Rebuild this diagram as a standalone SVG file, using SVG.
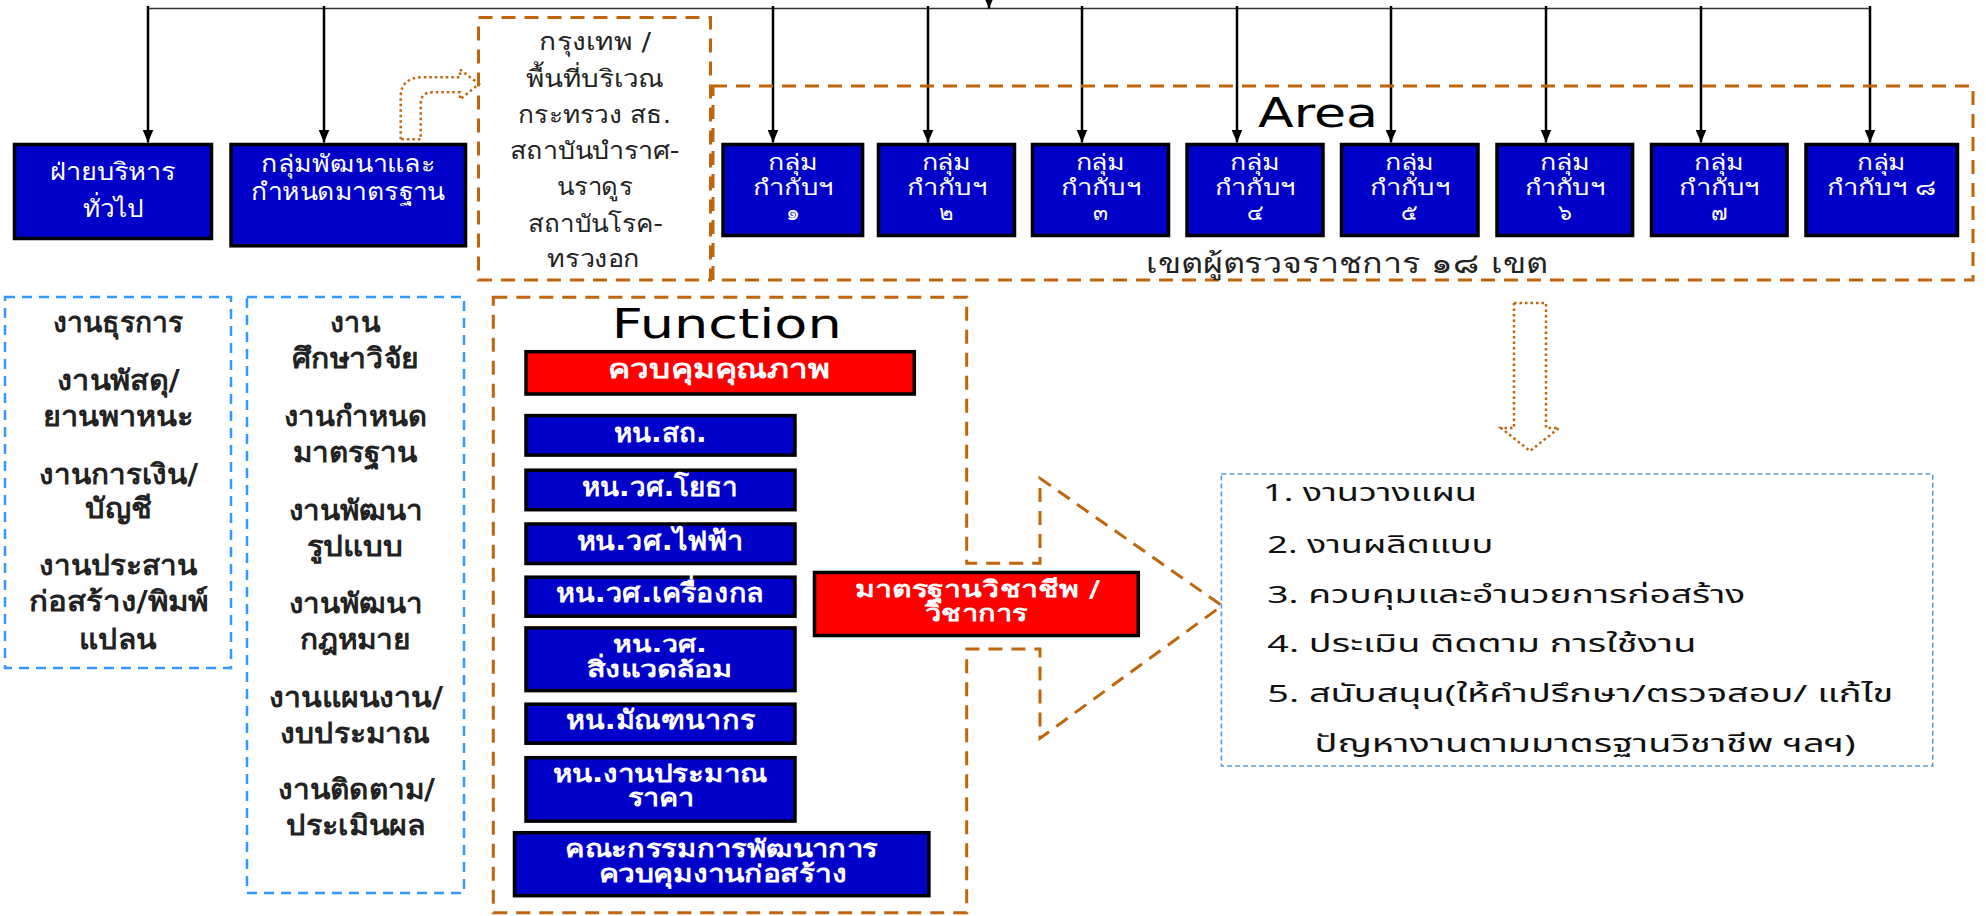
<svg xmlns="http://www.w3.org/2000/svg" width="1986" height="916" viewBox="0 0 1986 916">
<style>
.bx{fill:#0000C8;stroke:#000;stroke-width:3.5}
.rd{fill:#FF0000;stroke:#000;stroke-width:3.5}
.wt{fill:#fff;font-family:Tahoma,'DejaVu Sans',sans-serif;text-anchor:middle}
.wb{fill:#fff;font-family:Tahoma,'DejaVu Sans',sans-serif;text-anchor:middle;font-weight:bold}
.dk{fill:#222;font-family:Tahoma,'DejaVu Sans',sans-serif;text-anchor:middle}
.ls{fill:#222;font-family:Tahoma,'DejaVu Sans',sans-serif;text-anchor:middle;font-size:28px;font-weight:bold}
.rl{fill:#111;font-family:'Noto Sans Thai','Noto Sans Thai UI','Noto Sans',sans-serif;font-size:24px}
.od{fill:none;stroke:#C0650C;stroke-width:3;stroke-dasharray:14 9}
.bd{fill:none;stroke:#3399FF;stroke-width:2.5;stroke-dasharray:10 7}
.dot{fill:none;stroke:#C0650C;stroke-width:2.5;stroke-dasharray:2.5 3}
.ln{stroke:#000;stroke-width:2.5;marker-end:url(#ah)}
</style>
<defs>
<marker id="ah" markerUnits="userSpaceOnUse" markerWidth="13" markerHeight="11" viewBox="0 0 13 11" refX="13" refY="5.5" orient="auto"><path d="M0,0 L13,5.5 L0,11 z" fill="#000"/></marker>
</defs>

<g id="connectors">
<line x1="148" y1="8.5" x2="1870" y2="8.5" stroke="#333" stroke-width="1.6"/>
<line class="ln" x1="989" y1="-20" x2="989" y2="8.5"/>
<line class="ln" x1="148" y1="6" x2="148" y2="142.5"/>
<line class="ln" x1="324" y1="6" x2="324" y2="142.5"/>
<line class="ln" x1="773" y1="6" x2="773" y2="142.5"/>
<line class="ln" x1="928" y1="6" x2="928" y2="142.5"/>
<line class="ln" x1="1082" y1="6" x2="1082" y2="142.5"/>
<line class="ln" x1="1237" y1="6" x2="1237" y2="142.5"/>
<line class="ln" x1="1391" y1="6" x2="1391" y2="142.5"/>
<line class="ln" x1="1546" y1="6" x2="1546" y2="142.5"/>
<line class="ln" x1="1701" y1="6" x2="1701" y2="142.5"/>
<line class="ln" x1="1870" y1="6" x2="1870" y2="142.5"/>
<path class="dot" d="M400.7,139.3 L400.7,97 Q400.7,77.3 423,77.3 L460,77.3 L460,69.5 L479,84 L460,99.3 L460,92.3 L432,92.3 Q420.7,92.3 420.7,104 L420.7,139.3 Z"/>
<path class="dot" d="M1514,303 H1546 V428 H1559 L1530,451 L1501,428 H1514 Z"/>
</g>

<g id="admin">
<rect class="bx" x="14.5" y="144.5" width="197" height="94"/>
<text class="wt" font-size="24" x="113" y="180" textLength="126" lengthAdjust="spacingAndGlyphs">ฝ่ายบริหาร</text>
<text class="wt" font-size="24" x="113" y="217" textLength="61" lengthAdjust="spacingAndGlyphs">ทั่วไป</text>
</g>

<g id="standards">
<rect class="bx" x="231" y="144.5" width="234.5" height="101.3"/>
<text class="wt" font-size="24" x="348" y="171.5" textLength="174" lengthAdjust="spacingAndGlyphs">กลุ่มพัฒนาและ</text>
<text class="wt" font-size="24" x="348" y="200" textLength="194" lengthAdjust="spacingAndGlyphs">กำหนดมาตรฐาน</text>
</g>

<g id="bangkok">
<rect class="od" x="478.5" y="17.5" width="232" height="262.5"/>
<text class="dk" font-size="24" x="595" y="50" textLength="112" lengthAdjust="spacingAndGlyphs">กรุงเทพ /</text>
<text class="dk" font-size="24" x="594.5" y="86.5" textLength="138" lengthAdjust="spacingAndGlyphs">พื้นที่บริเวณ</text>
<text class="dk" font-size="24" x="594.5" y="123" textLength="153" lengthAdjust="spacingAndGlyphs">กระทรวง สธ.</text>
<text class="dk" font-size="24" x="594.5" y="159" textLength="170" lengthAdjust="spacingAndGlyphs">สถาบันบำราศ-</text>
<text class="dk" font-size="24" x="594.5" y="195" textLength="76" lengthAdjust="spacingAndGlyphs">นราดูร</text>
<text class="dk" font-size="24" x="595.5" y="231.5" textLength="135" lengthAdjust="spacingAndGlyphs">สถาบันโรค-</text>
<text class="dk" font-size="24" x="593.7" y="267" textLength="93" lengthAdjust="spacingAndGlyphs">ทรวงอก</text>
</g>

<g id="area">
<rect class="od" x="713" y="86" width="1260" height="194"/>
<text x="1318" y="126.7" font-family="'DejaVu Sans',sans-serif" font-size="41" text-anchor="middle" fill="#000" textLength="120" lengthAdjust="spacingAndGlyphs">Area</text>
<text class="dk" font-size="28" x="1347" y="273" fill="#000" textLength="402" lengthAdjust="spacingAndGlyphs">เขตผู้ตรวจราชการ  ๑๘ เขต</text>
</g>

<g id="reg1"><rect class="bx" x="723" y="144.5" width="139.6" height="91"/>
<text class="wt" font-size="22" x="793" y="170" textLength="50" lengthAdjust="spacingAndGlyphs">กลุ่ม</text>
<text class="wt" font-size="22" x="793" y="195" textLength="80" lengthAdjust="spacingAndGlyphs">กำกับฯ</text>
<text class="wt" font-size="22" x="793" y="220">๑</text></g>
<g id="reg2"><rect class="bx" x="878.5" y="144.5" width="136" height="91"/>
<text class="wt" font-size="22" x="946.5" y="170" textLength="50" lengthAdjust="spacingAndGlyphs">กลุ่ม</text>
<text class="wt" font-size="22" x="946.5" y="195" textLength="80" lengthAdjust="spacingAndGlyphs">กำกับฯ</text>
<text class="wt" font-size="22" x="946.5" y="220">๒</text></g>
<g id="reg3"><rect class="bx" x="1032.5" y="144.5" width="136" height="91"/>
<text class="wt" font-size="22" x="1100.5" y="170" textLength="50" lengthAdjust="spacingAndGlyphs">กลุ่ม</text>
<text class="wt" font-size="22" x="1100.5" y="195" textLength="80" lengthAdjust="spacingAndGlyphs">กำกับฯ</text>
<text class="wt" font-size="22" x="1100.5" y="220">๓</text></g>
<g id="reg4"><rect class="bx" x="1187" y="144.5" width="136" height="91"/>
<text class="wt" font-size="22" x="1255" y="170" textLength="50" lengthAdjust="spacingAndGlyphs">กลุ่ม</text>
<text class="wt" font-size="22" x="1255" y="195" textLength="80" lengthAdjust="spacingAndGlyphs">กำกับฯ</text>
<text class="wt" font-size="22" x="1255" y="220">๔</text></g>
<g id="reg5"><rect class="bx" x="1341.5" y="144.5" width="136.5" height="91"/>
<text class="wt" font-size="22" x="1409.7" y="170" textLength="50" lengthAdjust="spacingAndGlyphs">กลุ่ม</text>
<text class="wt" font-size="22" x="1409.7" y="195" textLength="80" lengthAdjust="spacingAndGlyphs">กำกับฯ</text>
<text class="wt" font-size="22" x="1409.7" y="220">๕</text></g>
<g id="reg6"><rect class="bx" x="1497" y="144.5" width="135.6" height="91"/>
<text class="wt" font-size="22" x="1564.8" y="170" textLength="50" lengthAdjust="spacingAndGlyphs">กลุ่ม</text>
<text class="wt" font-size="22" x="1564.8" y="195" textLength="80" lengthAdjust="spacingAndGlyphs">กำกับฯ</text>
<text class="wt" font-size="22" x="1564.8" y="220">๖</text></g>
<g id="reg7"><rect class="bx" x="1651.5" y="144.5" width="135.6" height="91"/>
<text class="wt" font-size="22" x="1719.3" y="170" textLength="50" lengthAdjust="spacingAndGlyphs">กลุ่ม</text>
<text class="wt" font-size="22" x="1719.3" y="195" textLength="80" lengthAdjust="spacingAndGlyphs">กำกับฯ</text>
<text class="wt" font-size="22" x="1719.3" y="220">๗</text></g>
<g id="reg8"><rect class="bx" x="1806" y="144.5" width="151.5" height="91"/>
<text class="wt" font-size="22" x="1881.8" y="170" textLength="49" lengthAdjust="spacingAndGlyphs">กลุ่ม</text>
<text class="wt" font-size="22" x="1881.5" y="195" textLength="110" lengthAdjust="spacingAndGlyphs">กำกับฯ ๘</text></g>

<g id="admin-tasks">
<rect class="bd" x="5" y="297" width="226" height="371"/>
<text class="ls" x="118" y="331.9" textLength="130" lengthAdjust="spacingAndGlyphs">งานธุรการ</text>
<text class="ls" x="118.3" y="389.8" textLength="123" lengthAdjust="spacingAndGlyphs">งานพัสดุ/</text>
<text class="ls" x="118" y="425.7" textLength="150" lengthAdjust="spacingAndGlyphs">ยานพาหนะ</text>
<text class="ls" x="118.5" y="483.6" textLength="159" lengthAdjust="spacingAndGlyphs">งานการเงิน/</text>
<text class="ls" x="118.5" y="517.6" textLength="67" lengthAdjust="spacingAndGlyphs">บัญชี</text>
<text class="ls" x="118" y="575.4" textLength="158" lengthAdjust="spacingAndGlyphs">งานประสาน</text>
<text class="ls" x="118.5" y="611.4" textLength="179" lengthAdjust="spacingAndGlyphs">ก่อสร้าง/พิมพ์</text>
<text class="ls" x="117.5" y="649.3" textLength="77" lengthAdjust="spacingAndGlyphs">แปลน</text>
</g>

<g id="standard-tasks">
<rect class="bd" x="247" y="297" width="217" height="596"/>
<text class="ls" x="355" y="331.9" textLength="50" lengthAdjust="spacingAndGlyphs">งาน</text>
<text class="ls" x="355" y="367.9" textLength="126" lengthAdjust="spacingAndGlyphs">ศึกษาวิจัย</text>
<text class="ls" x="355" y="425.7" textLength="143" lengthAdjust="spacingAndGlyphs">งานกำหนด</text>
<text class="ls" x="355" y="461.7" textLength="124" lengthAdjust="spacingAndGlyphs">มาตรฐาน</text>
<text class="ls" x="355.5" y="519.6" textLength="134" lengthAdjust="spacingAndGlyphs">งานพัฒนา</text>
<text class="ls" x="355" y="555.5" textLength="97" lengthAdjust="spacingAndGlyphs">รูปแบบ</text>
<text class="ls" x="355.5" y="613.4" textLength="134" lengthAdjust="spacingAndGlyphs">งานพัฒนา</text>
<text class="ls" x="355" y="649.3" textLength="111" lengthAdjust="spacingAndGlyphs">กฎหมาย</text>
<text class="ls" x="356" y="707.2" textLength="174" lengthAdjust="spacingAndGlyphs">งานแผนงาน/</text>
<text class="ls" x="355" y="743.1" textLength="150" lengthAdjust="spacingAndGlyphs">งบประมาณ</text>
<text class="ls" x="356.5" y="799" textLength="157" lengthAdjust="spacingAndGlyphs">งานติดตาม/</text>
<text class="ls" x="355.5" y="834.9" textLength="139" lengthAdjust="spacingAndGlyphs">ประเมินผล</text>
</g>

<g id="function">
<path class="od" d="M493.3,297.2 H966.7 V563.3 H1040 V478.3 L1222,605.7 L1040,738.3 V649 H966.7 V912.8 H493.3 Z"/>
<text x="726.7" y="338" font-family="'DejaVu Sans',sans-serif" font-size="40" text-anchor="middle" fill="#000" textLength="230" lengthAdjust="spacingAndGlyphs">Function</text>
</g>

<g id="qc">
<rect class="rd" x="526" y="351.7" width="388.3" height="42.3"/>
<text class="wb" font-size="26" x="719" y="377.8" textLength="222" lengthAdjust="spacingAndGlyphs">ควบคุมคุณภาพ</text>
</g>
<g id="f1"><rect class="bx" x="526" y="415.6" width="269" height="39.5"/>
<text class="wb" font-size="26" x="660" y="441.7" textLength="93" lengthAdjust="spacingAndGlyphs">หน.สถ.</text></g>
<g id="f2"><rect class="bx" x="526" y="470.2" width="269" height="39.5"/>
<text class="wb" font-size="26" x="660" y="495.6" textLength="157" lengthAdjust="spacingAndGlyphs">หน.วศ.โยธา</text></g>
<g id="f3"><rect class="bx" x="526" y="524" width="269" height="39.5"/>
<text class="wb" font-size="26" x="660" y="549.5" textLength="167" lengthAdjust="spacingAndGlyphs">หน.วศ.ไฟฟ้า</text></g>
<g id="f4"><rect class="bx" x="526" y="577.2" width="269" height="39"/>
<text class="wb" font-size="26" x="660" y="602.2" textLength="208" lengthAdjust="spacingAndGlyphs">หน.วศ.เครื่องกล</text></g>
<g id="f5"><rect class="bx" x="526" y="627.9" width="269" height="62.7"/>
<text class="wb" font-size="22" x="659.7" y="652" textLength="94" lengthAdjust="spacingAndGlyphs">หน.วศ.</text>
<text class="wb" font-size="22" x="660.3" y="677" textLength="146" lengthAdjust="spacingAndGlyphs">สิ่งแวดล้อม</text></g>
<g id="f6"><rect class="bx" x="526" y="704.2" width="269" height="39"/>
<text class="wb" font-size="26" x="660.5" y="729.1" textLength="189" lengthAdjust="spacingAndGlyphs">หน.มัณฑนากร</text></g>
<g id="f7"><rect class="bx" x="526" y="757.7" width="269" height="63.4"/>
<text class="wb" font-size="24" x="659.7" y="781.5" textLength="214" lengthAdjust="spacingAndGlyphs">หน.งานประมาณ</text>
<text class="wb" font-size="24" x="660.5" y="805.8" textLength="66" lengthAdjust="spacingAndGlyphs">ราคา</text></g>
<g id="f8"><rect class="bx" x="514.5" y="832.7" width="414.4" height="63"/>
<text class="wb" font-size="24" x="721.7" y="856.5" textLength="313" lengthAdjust="spacingAndGlyphs">คณะกรรมการพัฒนาการ</text>
<text class="wb" font-size="24" x="722.5" y="881.6" textLength="248" lengthAdjust="spacingAndGlyphs">ควบคุมงานก่อสร้าง</text></g>

<g id="professional">
<rect class="rd" x="814.5" y="572.5" width="323.8" height="63"/>
<text class="wb" font-size="23" x="977.5" y="596.7" textLength="245" lengthAdjust="spacingAndGlyphs">มาตรฐานวิชาชีพ /</text>
<text class="wb" font-size="23" x="976" y="620.7" textLength="102" lengthAdjust="spacingAndGlyphs">วิชาการ</text>
</g>

<g id="duties">
<rect x="1221.4" y="474" width="711.3" height="292" fill="none" stroke="#5B9BD5" stroke-width="1.6" stroke-dasharray="5 3"/>
<text class="rl" x="1263" y="500.7" textLength="214" lengthAdjust="spacingAndGlyphs">1. งานวางแผน</text>
<text class="rl" x="1267.3" y="552.7" textLength="226" lengthAdjust="spacingAndGlyphs">2. งานผลิตแบบ</text>
<text class="rl" x="1267.3" y="602.7" textLength="478" lengthAdjust="spacingAndGlyphs">3. ควบคุมและอำนวยการก่อสร้าง</text>
<text class="rl" x="1267.3" y="651.7" textLength="429" lengthAdjust="spacingAndGlyphs">4. ประเมิน ติดตาม การใช้งาน</text>
<text class="rl" x="1267.3" y="701.7" textLength="626" lengthAdjust="spacingAndGlyphs">5. สนับสนุน(ให้คำปรึกษา/ตรวจสอบ/ แก้ไข</text>
<text class="rl" x="1314.5" y="751.7" textLength="541" lengthAdjust="spacingAndGlyphs">ปัญหางานตามมาตรฐานวิชาชีพ ฯลฯ)</text>
</g>
</svg>
